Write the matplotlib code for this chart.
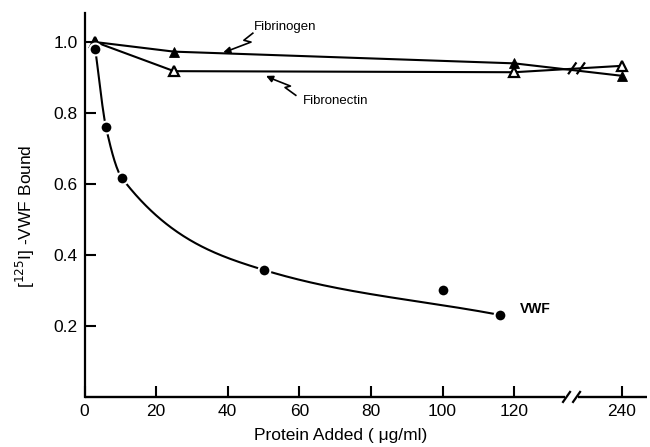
import numpy as np
import matplotlib
matplotlib.use("Agg")
import matplotlib.pyplot as plt
from matplotlib.transforms import offset_copy

# ---- data ----
vwf_x = [3, 6, 10.5, 50, 100, 116]
vwf_y = [0.98, 0.76, 0.616, 0.358, 0.30, 0.231]
vwf_curve_idx = [0, 1, 2, 3, 5]          # points the smooth curve passes through

fibrinogen_x = [3, 25, 120, 240]
fibrinogen_y = [1.0, 0.973, 0.94, 0.905]

fibronectin_x = [3, 25, 120, 240]
fibronectin_y = [1.0, 0.918, 0.915, 0.933]

xticks = [0, 20, 40, 60, 80, 100, 120, 240]
xticklabels = ["0", "20", "40", "60", "80", "100", "120", "240"]
yticks = [0.2, 0.4, 0.6, 0.8, 1.0]
yticklabels = ["0.2", "0.4", "0.6", "0.8", "1.0"]

# ---- broken x scale: 0-120 linear, 120-240 compressed 4x ----
def fwd(x):
    x = np.asarray(x, dtype=float)
    return np.where(x <= 120, x, 120 + (x - 120) / 4.0)

def inv(p):
    p = np.asarray(p, dtype=float)
    return np.where(p <= 120, p, 120 + (p - 120) * 4.0)

def pchip(xs, ys, xq):
    xs = np.asarray(xs, float); ys = np.asarray(ys, float)
    h = np.diff(xs); d = np.diff(ys) / h
    m = np.zeros_like(xs)
    for k in range(1, len(xs) - 1):
        if d[k - 1] * d[k] > 0:
            w1 = 2 * h[k] + h[k - 1]; w2 = h[k] + 2 * h[k - 1]
            m[k] = (w1 + w2) / (w1 / d[k - 1] + w2 / d[k])
    m[0] = d[0]; m[-1] = d[-1]
    out = np.empty_like(xq)
    for i, x in enumerate(xq):
        k = min(max(np.searchsorted(xs, x) - 1, 0), len(xs) - 2)
        t = (x - xs[k]) / h[k]
        h00 = 2*t**3 - 3*t**2 + 1; h10 = t**3 - 2*t**2 + t
        h01 = -2*t**3 + 3*t**2; h11 = t**3 - t**2
        out[i] = h00*ys[k] + h10*h[k]*m[k] + h01*ys[k+1] + h11*h[k]*m[k+1]
    return out

plt.rcParams['font.family'] = ['Liberation Sans', 'DejaVu Sans']

fig = plt.figure(figsize=(6.5, 4.47), dpi=100)
ax = fig.add_axes([0.130, 0.112, 0.865, 0.859])
ax.set_xscale('function', functions=(fwd, inv))
ax.set_xlim(0, 268)
ax.set_ylim(0, 1.082)

lw = 1.5
# VWF smooth curve
cx = [vwf_x[i] for i in vwf_curve_idx]
cy = [vwf_y[i] for i in vwf_curve_idx]
xq = np.linspace(cx[0], cx[-1], 400)
ax.plot(xq, pchip(cx, cy, xq), color='black', lw=lw, zorder=2)
ax.plot(vwf_x, vwf_y, linestyle='none', marker='o', ms=8.5, mfc='black',
        mec='white', mew=1.5, zorder=5)

# Fibrinogen / Fibronectin
ax.plot(fibronectin_x, fibronectin_y, color='black', lw=lw, zorder=2)
ax.plot(fibrinogen_x, fibrinogen_y, color='black', lw=lw, zorder=2)
ax.plot(fibronectin_x, fibronectin_y, linestyle='none', marker='^', ms=6.5,
        mfc='white', mec='black', mew=1.6, zorder=3)
ax.plot(fibrinogen_x, fibrinogen_y, linestyle='none', marker='^', ms=7,
        mfc='black', mec='black', mew=0.6, zorder=4)

# spines / ticks
for s in ['top', 'right', 'bottom']:
    ax.spines[s].set_visible(False)
ax.spines['left'].set_linewidth(1.6)
ax.set_xticks(xticks)
ax.set_xticklabels(xticklabels)
ax.set_yticks(yticks)
ax.set_yticklabels(yticklabels)
ax.minorticks_off()
ax.tick_params(axis='both', direction='in', length=8, width=1.5,
               labelsize=12.5, color='black')
ax.tick_params(axis='x', pad=5)
ax.tick_params(axis='y', pad=5)

# broken bottom axis line
xt = ax.get_xaxis_transform()
ax.plot([0, inv(134.3)], [0, 0], transform=xt, color='black', lw=1.7,
        clip_on=False, solid_capstyle='butt', zorder=5)
ax.plot([inv(137.8), 268], [0, 0], transform=xt, color='black', lw=1.7,
        clip_on=False, solid_capstyle='butt', zorder=5)

fig.canvas.draw()

def slash(xd, yd, trans):
    t1 = offset_copy(trans, fig=fig, x=-3.5, y=-5, units='dots')
    t2 = offset_copy(trans, fig=fig, x=3.5, y=5, units='dots')
    p1 = t1.transform((xd, yd)); p2 = t2.transform((xd, yd))
    inv_t = fig.transFigure.inverted()
    a = inv_t.transform(p1); b = inv_t.transform(p2)
    fig.add_artist(plt.Line2D([a[0], b[0]], [a[1], b[1]], color='black',
                              lw=1.6, transform=fig.transFigure, zorder=6))

for p in (134.6, 137.4):
    slash(float(inv(p)), 0, xt)
for p in (136.2, 138.6):
    slash(float(inv(p)), 0.926, ax.transData)

# labels
ax.set_ylabel(r'[$^{125}$I] -VWF Bound', fontsize=12.5, labelpad=0)
ax.yaxis.set_label_coords(-0.085, 0.47)
ax.set_xlabel('Protein Added ( \u03bcg/ml)', fontsize=12.5)
ax.xaxis.set_label_coords(0.455, -0.082)

# annotations
ax.text(56, 1.043, 'Fibrinogen', fontsize=9.5, ha='center', va='center')
ax.plot([47, 44.5, 46.5, 40], [1.025, 1.005, 1.000, 0.975], color='black', lw=1.2)
ax.annotate('', xy=(38, 0.969), xytext=(41, 0.978),
            arrowprops=dict(arrowstyle='-|>', color='black', lw=1.2,
                            mutation_scale=10))
ax.text(70, 0.834, 'Fibronectin', fontsize=9.5, ha='center', va='center')
ax.plot([59, 56, 57.5, 52], [0.85, 0.872, 0.876, 0.898], color='black', lw=1.2)
ax.annotate('', xy=(50, 0.908), xytext=(53, 0.894),
            arrowprops=dict(arrowstyle='-|>', color='black', lw=1.2,
                            mutation_scale=10))
ax.text(126.3, 0.248, 'VWF', fontsize=10, fontweight='bold', ha='left',
        va='center')

fig.savefig('out.png', dpi=100)
